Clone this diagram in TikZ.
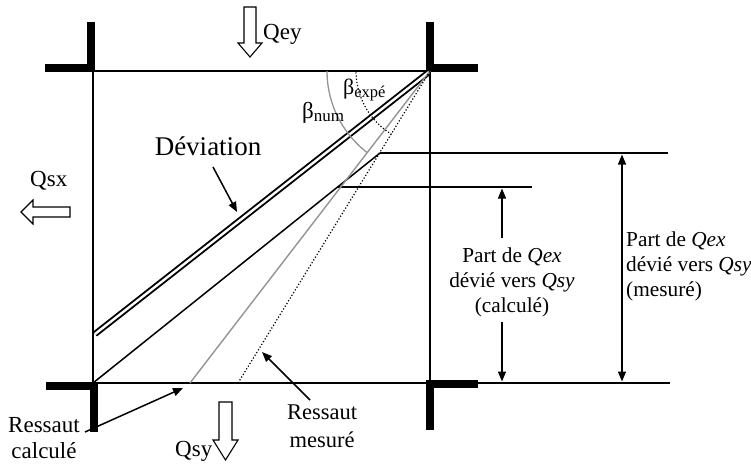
\documentclass[tikz,border=0pt]{standalone}
\usepackage{fontspec}
\setmainfont{Liberation Serif}
\usetikzlibrary{arrows.meta}
\begin{document}
\begin{tikzpicture}[x=1pt,y=-1pt,
  thinline/.style={line width=1.5pt},
  bar/.style={line width=8pt, line join=miter},
  lblQ/.style={font=\fontsize{23}{26}\selectfont, inner sep=0pt},
  lblR/.style={font=\fontsize{21.3}{25}\selectfont, inner sep=0pt},
  pointer/.style={line width=1.5pt, -{Triangle[length=10pt,width=8pt]}},
  dimarrow/.style={line width=1.5pt, -{Triangle[length=10pt,width=8pt]}},
  hollow/.style={draw, line width=1.1pt, fill=white, line join=miter},
  grayline/.style={line width=1.4pt, black!42}]
\useasboundingbox (0,0) rectangle (751,464);
% corners of the square
\coordinate (TL) at (93,71);
\coordinate (TR) at (430,71);
\coordinate (BL) at (93,383);
\coordinate (BR) at (430,383);
\coordinate (Bend) at (670,383);
% square
\draw[thinline] (TL) -- (TR) -- (BR);
\draw[thinline] (TL) -- (BL);
\draw[thinline] (BL) -- (Bend);
% thick L-shaped walls
\draw[bar] (45,68) -- (91,68) -- (91,22);
\draw[bar] (430,22) -- (430,67.5) -- (478,67.5);
\draw[bar] (478,383.5) -- (430,383.5) -- (430,430);
\draw[bar] (46,385.5) -- (93.5,385.5) -- (93.5,432);
% deviation double line
\coordinate (D1) at (95,334);
\coordinate (D2) at (429,72);
\draw[line width=1.9pt, double, double distance=2.4pt] (D1) -- (D2);
% calculated line
\coordinate (C1) at (380,153);
\coordinate (C2) at (337,187);
\draw[thinline] (BL) -- (C1);
\coordinate (H1) at (668,153);
\coordinate (H2) at (532,187);
\draw[thinline] (C1) -- (H1);
\draw[thinline] (C2) -- (H2);
% gray and dotted lines
\coordinate (G) at (190,383);
\coordinate (M) at (238,383);
\draw[grayline] (G) -- (TR);
\draw[line width=1.2pt, dotted] (M) -- (TR);
% arcs
\draw[line width=1.3pt, black!42] plot[domain=180:232.4, samples=40] ({430+103*cos(\x)}, {71-103*sin(\x)});
\draw[line width=1.2pt, dotted] plot[domain=181:238.4, samples=40] ({430+74*cos(\x)}, {71-74*sin(\x)});
% angle labels
\node[anchor=base west, inner sep=0pt, font=\fontsize{23}{26}\selectfont] (bnum) at (302,118) {β\raisebox{-3pt}{\fontsize{17}{20}\selectfont num}};
\node[anchor=base west, inner sep=0pt, font=\fontsize{22}{26}\selectfont] (bexp) at (343,94) {β\raisebox{-3pt}{\fontsize{16.5}{20}\selectfont expé}};
% hollow flow arrows
\draw[hollow] (244,7) -- (256,7) -- (256,43) -- (262,43) -- (250,57) -- (238,43) -- (244,43) -- cycle;
\draw[hollow] (70,207) -- (70,217) -- (33,217) -- (33,224) -- (21,212) -- (33,200) -- (33,207) -- cycle;
\draw[hollow] (219,402) -- (232,402) -- (232,440) -- (238,440) -- (225.5,460) -- (213,440) -- (219,440) -- cycle;
\node[lblQ, anchor=base west] (qey) at (263,39) {Qey};
\node[lblQ, anchor=base west] (qsx) at (30,186) {Qsx};
\node[lblQ, anchor=base west] (qsy) at (175,456) {Qsy};
% Deviation label
\node[anchor=base, inner sep=0pt, font=\fontsize{27}{30}\selectfont] (dev) at (208,155) {Déviation};
\coordinate (devS) at (213,167);
\coordinate (devT) at (237,212);
\draw[pointer] (devS) -- (devT);
% Ressaut labels
\node[lblQ, anchor=north, align=center, font=\fontsize{23}{26}\selectfont] (rc) at (44,417) {Ressaut\\calculé};
\coordinate (rcS) at (85,432);
\coordinate (rcT) at (183,388);
\draw[pointer] (rcS) -- (rcT);
\node[lblQ, anchor=north, align=center, font=\fontsize{22.5}{28}\selectfont] (rm) at (322,405) {Ressaut\\mesuré};
\coordinate (rmS) at (310,400);
\coordinate (rmT) at (262,352);
\draw[pointer] (rmS) -- (rmT);
% dimension: calculated
\node[lblR, anchor=north, align=center] (pc) at (512,248) {Part de \textit{Qex}\\dévié vers \textit{Qsy}\\(calculé)};
\coordinate (pcA) at (502,238);
\coordinate (pcAt) at (502,188.5);
\coordinate (pcB) at (502,322);
\coordinate (pcBt) at (502,381.5);
\draw[dimarrow] (pcA) -- (pcAt);
\draw[dimarrow] (pcB) -- (pcBt);
% dimension: measured
\node[lblR, anchor=north west, align=left] (pm) at (626,232) {Part de \textit{Qex}\\dévié vers \textit{Qsy}\\(mesuré)};
\coordinate (pmA) at (622,154.5);
\coordinate (pmB) at (622,381.5);
\draw[line width=1.5pt, {Triangle[length=10pt,width=8pt]}-{Triangle[length=10pt,width=8pt]}] (pmA) -- (pmB);
\end{tikzpicture}
\end{document}
